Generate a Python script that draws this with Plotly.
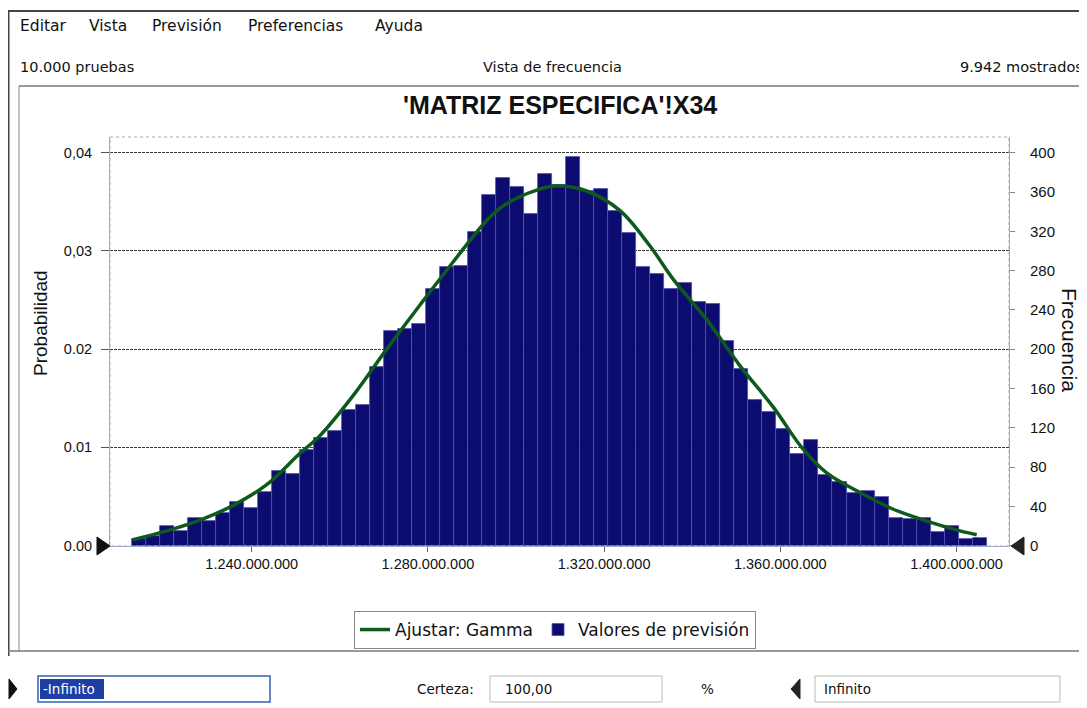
import plotly.graph_objects as go

# ---------------- data ----------------
BIN_START = 1.212758e9          # left edge of the first histogram bin
BIN_WIDTH = 3.1818e6            # width of each bin
FREQ = [7, 10, 20, 15, 28, 25, 33, 44, 38, 55,
        76, 73, 97, 110, 117, 138, 143, 182, 219, 221,
        226, 261, 284, 285, 319, 357, 374, 365, 338, 378,
        367, 396, 361, 363, 341, 318, 284, 277, 261, 267,
        248, 246, 208, 180, 148, 136, 119, 93, 108, 72,
        65, 54, 56, 49, 28, 27, 28, 14, 20, 7, 8]

CURVE_X = [1.213053e9, 1.220704e9, 1.228263e9, 1.235823e9, 1.243405e9,
           1.250965e9, 1.255505e9, 1.263065e9, 1.270647e9, 1.278207e9,
           1.285766e9, 1.293349e9, 1.297117e9, 1.304699e9, 1.309240e9,
           1.316050e9, 1.323610e9, 1.330420e9, 1.335710e9, 1.343292e9,
           1.350852e9, 1.358411e9, 1.364858e9, 1.370534e9, 1.378093e9,
           1.385653e9, 1.393235e9, 1.400795e9, 1.404586e9]
CURVE_FREQ = [6, 15, 26, 41, 62, 94, 112, 153, 200, 245,
              289, 331, 346, 362, 366, 361, 341, 305, 271, 230,
              183, 141, 100, 74, 54, 37, 25, 15, 11]

X_TICKS = [1.24e9, 1.28e9, 1.32e9, 1.36e9, 1.40e9]
X_TICK_TEXT = ["1.240.000.000", "1.280.000.000", "1.320.000.000",
               "1.360.000.000", "1.400.000.000"]
X_RANGE = [1.207832e9, 1.411918e9]

FREQ_RANGE = [-0.4, 416.0]
PROB_TICKS = [0, 100, 200, 300, 400]
PROB_TICK_TEXT = ["0.00", "0.01", "0.02", "0,03", "0,04"]
FREQ_TICKS = [0, 40, 80, 120, 160, 200, 240, 280, 320, 360, 400]

TITLE = "'MATRIZ ESPECIFICA'!X34"
MENU = ["Editar", "Vista", "Previsión", "Preferencias", "Ayuda"]
LEGEND_FIT = "Ajustar: Gamma"
LEGEND_BARS = "Valores de previsión"

# ---------------- geometry helpers (screen pixel -> paper) ----------------
OFF = 8                          # page body margin
W_FIG, H_FIG = 1087 - OFF, 708 - OFF
L, T, R, B = 110, 137, 1009, 546  # plot area in screen pixels
PW, PH = R - L, B - T


def px(x):
    return (x - L) / PW


def py(y):
    return (B - y) / PH


centers = [BIN_START + BIN_WIDTH * (i + 0.5) for i in range(len(FREQ))]

fig = go.Figure()
fig.add_trace(go.Bar(
    x=centers, y=FREQ, width=BIN_WIDTH, name=LEGEND_BARS,
    marker=dict(color="#0c0c70", line=dict(color="#5252b0", width=0.8)),
    legendrank=2, yaxis="y", hoverinfo="skip"))
fig.add_trace(go.Scatter(
    x=CURVE_X, y=CURVE_FREQ, mode="lines", name=LEGEND_FIT,
    line=dict(color="#0e5a1c", width=3.5, shape="spline", smoothing=1.0),
    legendrank=1, yaxis="y2", hoverinfo="skip"))

font_chart = "Arial"
font_ui = "DejaVu Sans"

ann = []


def text(x, y, s, size=14, fam=font_ui, anchor="left", color="#111",
         angle=0, bold=False):
    ann.append(dict(x=px(x), y=py(y), xref="paper", yref="paper",
                    text=("<b>%s</b>" % s) if bold else s,
                    showarrow=False, xanchor=anchor, yanchor="middle",
                    textangle=angle,
                    font=dict(family=fam, size=size, color=color)))


menu_x = [18, 87, 150, 246, 373]
for mx, word in zip(menu_x, MENU):
    text(mx, 26, word, size=15.5)
text(18, 67, "10.000 pruebas", size=14.5)
text(552, 67, "Vista de frecuencia", size=14.5, anchor="center")
text(958, 67, "9.942 mostrados", size=14.5)
text(560, 105, TITLE, size=25, fam=font_chart, anchor="center", bold=True)
text(40, 323, "Probabilidad", size=19, fam=font_chart, anchor="center", angle=-90)
text(1070, 340, "Frecuencia", size=21, fam=font_chart, anchor="center", angle=90)

# bottom controls
text(41, 689, "-Infinito", size=13.5, color="#ffffff")
text(415, 689, "Certeza:", size=13.5)
text(503, 689, "100,00", size=13.5)
text(699, 689, "%", size=13.5)
text(822, 689, "Infinito", size=13.5)

shapes = []


def line(x0, y0, x1, y1, color="#666", width=1.5, dash="solid"):
    shapes.append(dict(type="line", xref="paper", yref="paper",
                       x0=px(x0), y0=py(y0), x1=px(x1), y1=py(y1),
                       line=dict(color=color, width=width, dash=dash)))


def rect(x0, y0, x1, y1, color="#888", width=1, fill="rgba(0,0,0,0)", dash="solid"):
    shapes.append(dict(type="rect", xref="paper", yref="paper",
                       x0=px(x0), y0=py(y0), x1=px(x1), y1=py(y1),
                       line=dict(color=color, width=width, dash=dash),
                       fillcolor=fill, layer="above"))


def tri(points, fill="#111"):
    path = "M " + " L ".join("%f,%f" % (px(a), py(b)) for a, b in points) + " Z"
    shapes.append(dict(type="path", xref="paper", yref="paper", path=path,
                       fillcolor=fill, line=dict(color=fill, width=1), layer="above"))


# window frame
line(0, 11, 1090, 11, color="#444", width=2)
line(8.5, 11, 8.5, 656, color="#444", width=2)
# chart panel frame
line(19, 86, 1090, 86, color="#777", width=1.5)
line(19, 86, 19, 651, color="#888", width=1)
line(8, 651, 1090, 651, color="#777", width=1.5)
# plot border
rect(L, T, R, B, color="#aaaaaa", width=1, dash="dot")
# grabber triangles on the axis
tri([(97, 537), (110, 546), (97, 555)])
tri([(1024, 537), (1011, 546), (1024, 555)], fill="#222")
# bottom controls
tri([(9, 679), (17, 689), (9, 699)])
rect(38, 676, 270, 702, color="#3a5fb0", width=1.5)
shapes.append(dict(type="rect", xref="paper", yref="paper",
                   x0=px(40), y0=py(679), x1=px(104), y1=py(699),
                   line=dict(width=0), fillcolor="#1d3fa3", layer="below"))
rect(490, 676, 662, 702, color="#bbbbbb", width=1)
tri([(800, 679), (791, 689), (800, 699)], fill="#222")
rect(815, 676, 1060, 702, color="#bbbbbb", width=1)

fig.update_layout(
    width=W_FIG, height=H_FIG,
    margin=dict(l=L - OFF, r=1087 - R, t=T - OFF, b=708 - B, pad=0),
    paper_bgcolor="white", plot_bgcolor="white",
    bargap=0, showlegend=True,
    font=dict(family=font_chart, size=14, color="#111"),
    xaxis=dict(range=X_RANGE, tickvals=X_TICKS, ticktext=X_TICK_TEXT,
               showgrid=False, zeroline=False, showline=True,
               linecolor="#9aa6d6", linewidth=1, ticks="outside",
               ticklen=5, tickcolor="#666", tickfont=dict(size=14.5, color="#111")),
    yaxis=dict(range=FREQ_RANGE, tickvals=PROB_TICKS, ticktext=PROB_TICK_TEXT,
               showgrid=True, gridcolor="#3a3a3a", griddash="3px,1px", gridwidth=1,
               zeroline=False, showline=True, linecolor="#aaaaaa", linewidth=1,
               ticks="outside", ticklen=8, tickcolor="#555", ticklabelstandoff=6,
               tickfont=dict(size=14.5, color="#111")),
    yaxis2=dict(range=FREQ_RANGE, tickvals=FREQ_TICKS, overlaying="y", side="right",
                showgrid=False, zeroline=False, showline=True, linecolor="#aaaaaa",
                linewidth=1, ticks="outside", ticklen=5, tickcolor="#888",
                ticklabelstandoff=12, tickfont=dict(size=15, color="#111")),
    legend=dict(orientation="h", x=px(555), xanchor="center", y=py(611),
                yanchor="top", bordercolor="#888", borderwidth=1,
                bgcolor="white", font=dict(family=font_ui, size=17, color="#111"),
                itemwidth=30),
    annotations=ann, shapes=shapes,
)

fig.write_html("out.html")
